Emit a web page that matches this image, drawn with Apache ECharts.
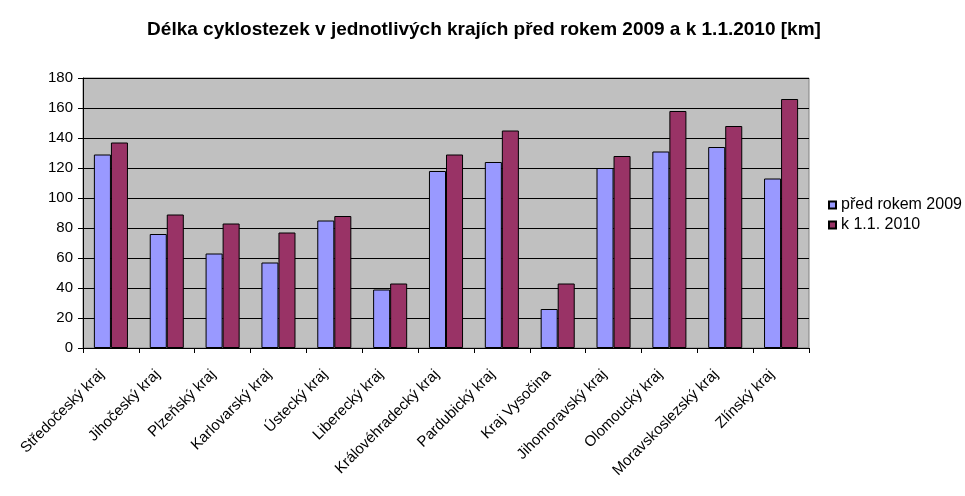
<!DOCTYPE html>
<html>
<head>
<meta charset="utf-8">
<script src="https://cdn.jsdelivr.net/npm/echarts@6/dist/echarts.min.js"></script>
<style>html,body{margin:0;padding:0;background:#fff}#c{width:965px;height:496px}</style>
</head>
<body>
<div id="c"></div>
<script>
const categories = ["Středočeský kraj","Jihočeský kraj","Plzeňský kraj","Karlovarský kraj","Ústecký kraj","Liberecký kraj","Královéhradecký kraj","Pardubický kraj","Kraj Vysočina","Jihomoravský kraj","Olomoucký kraj","Moravskoslezský kraj","Zlínský kraj"];
const before2009 = [129, 76, 63, 57, 85, 39, 118, 124, 26, 120, 131, 134, 113];
const at2010 = [137, 89, 83, 77, 88, 43, 129, 145, 43, 128, 158, 148, 166];
const seriesNames = ["před rokem 2009", "k 1.1. 2010"];
const yTicks = {min: 0, max: 180, interval: 20};

const chart = echarts.init(document.getElementById('c'));
const font = 'Arial, "Liberation Sans", sans-serif';
chart.setOption({
  animation: false,
  backgroundColor: '#ffffff',
  title: {
    text: 'Délka cyklostezek v jednotlivých krajích před rokem 2009 a k 1.1.2010 [km]',
    left: 479, top: 15, textAlign: 'center',
    textStyle: {fontFamily: font, fontSize: 19, fontWeight: 'bold', color: '#000'}
  },
  legend: {
    orient: 'vertical', left: 823, top: 192,
    icon: 'rect', itemWidth: 7, itemHeight: 7, itemGap: 4,
    textStyle: {fontFamily: font, fontSize: 16, color: '#000'},
    data: seriesNames
  },
  grid: {
    left: 83, right: 156, top: 78, bottom: 148,
    show: true, backgroundColor: '#C0C0C0', borderColor: '#808080', borderWidth: 1
  },
  xAxis: {
    type: 'category', data: categories,
    axisLine: {lineStyle: {color: '#000', width: 1}},
    axisTick: {show: true, length: 5, lineStyle: {color: '#000'}},
    axisLabel: {rotate: 45, interval: 0, fontFamily: font, fontSize: 15, color: '#000', margin: 15, padding: [0, 13, 0, 0]}
  },
  yAxis: {
    type: 'value', min: yTicks.min, max: yTicks.max, interval: yTicks.interval,
    axisLine: {show: true, lineStyle: {color: '#000', width: 1}},
    axisTick: {show: true, length: 5, lineStyle: {color: '#000'}},
    splitLine: {lineStyle: {color: '#000', width: 1}},
    axisLabel: {fontFamily: font, fontSize: 15, color: '#000', margin: 10}
  },
  series: [
    {name: seriesNames[0], type: 'bar', data: before2009, barGap: '0%', barCategoryGap: '39%',
     itemStyle: {color: '#9999FF', borderColor: '#000', borderWidth: 1}},
    {name: seriesNames[1], type: 'bar', data: at2010, barGap: '0%', barCategoryGap: '39%',
     itemStyle: {color: '#993366', borderColor: '#000', borderWidth: 1}}
  ]
});
</script>
</body>
</html>
